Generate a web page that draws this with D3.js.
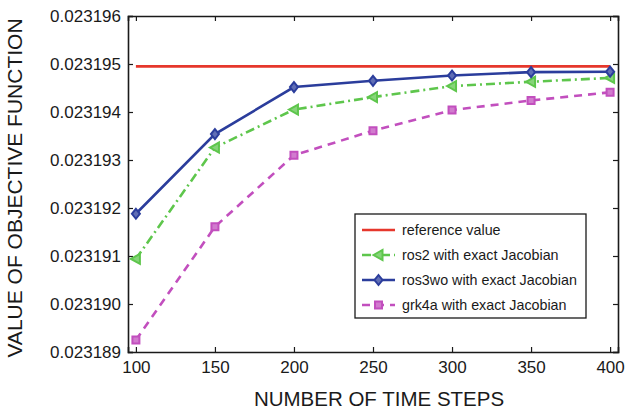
<!DOCTYPE html>
<html>
<head>
<meta charset="utf-8">
<script src="https://cdn.jsdelivr.net/npm/d3@7"></script>
<style>
  body { margin: 0; background: #fff; }
  text { font-family: "Liberation Sans", Arial, Helvetica, sans-serif; fill: #1a1a1a; }
</style>
</head>
<body>
<div class="chart-container"></div>
<script>
// data
var steps = [100, 150, 200, 250, 300, 350, 400]
var referenceValue = 0.02319495
var ros2 = [0.02319094, 0.02319326, 0.02319405, 0.02319431, 0.02319454, 0.02319463, 0.02319471]
var ros3wo = [0.02319188, 0.02319354, 0.02319452, 0.02319465, 0.02319476, 0.02319483, 0.02319484]
var grk4a = [0.02318925, 0.02319161, 0.02319310, 0.02319361, 0.02319404, 0.02319424, 0.02319441]
var xTicks = [100, 150, 200, 250, 300, 350, 400]
var yTicks = [0.023189, 0.023190, 0.023191, 0.023192, 0.023193, 0.023194, 0.023195, 0.023196]
var legendLabels = ['reference value', 'ros2 with exact Jacobian', 'ros3wo with exact Jacobian', 'grk4a with exact Jacobian']

var svg = d3.select('.chart-container').append('svg').attr('width', 626).attr('height', 410)

// plot box (window.top is reserved, so use own names)
var pLeft = 128, pRight = 618, pTop = 16, pBottom = 352

var x = d3.scaleLinear().domain([95, 405]).range([pLeft, pRight])
var y = d3.scaleLinear().domain([0.023189, 0.023196]).range([pBottom, pTop])

// axes, ticks pointing inward on all four sides
var fmt = d3.format('.6f')
var tickLen = 5
svg.append('g').attr('transform', 'translate(0,' + pBottom + ')')
  .call(d3.axisBottom(x).tickValues(xTicks).tickSize(-tickLen).tickPadding(9))
svg.append('g').attr('transform', 'translate(0,' + pTop + ')')
  .call(d3.axisTop(x).tickValues(xTicks).tickSize(-tickLen).tickFormat(''))
svg.append('g').attr('transform', 'translate(' + pLeft + ',0)')
  .call(d3.axisLeft(y).tickValues(yTicks).tickSize(-tickLen).tickPadding(7).tickFormat(fmt))
svg.append('g').attr('transform', 'translate(' + pRight + ',0)')
  .call(d3.axisRight(y).tickValues(yTicks).tickSize(-tickLen).tickFormat(''))

svg.selectAll('.domain').attr('stroke', '#1a1a1a').attr('stroke-width', 1.6)
svg.selectAll('.tick line').attr('stroke', '#1a1a1a').attr('stroke-width', 1.2)
svg.selectAll('.tick text').style('font-size', '17px').attr('fill', '#1a1a1a')

// axis titles
svg.append('text').attr('x', 379).attr('y', 406)
  .attr('text-anchor', 'middle').style('font-size', '20.5px').text('NUMBER OF TIME STEPS')
svg.append('text').attr('transform', 'translate(22,188) rotate(-90)')
  .attr('text-anchor', 'middle').style('font-size', '21px').text('VALUE OF OBJECTIVE FUNCTION')

var series = [
  {name: 'ros2', values: ros2, color: '#5ec64c', dash: '9,4,2,4', marker: 'triangle'},
  {name: 'ros3wo', values: ros3wo, color: '#2b3d9c', dash: null, marker: 'diamond'},
  {name: 'grk4a', values: grk4a, color: '#c24fbe', dash: '8,6', marker: 'square'}
]

var line = d3.line().x((d, i) => x(steps[i])).y(d => y(d))

// reference value
svg.append('line').attr('x1', x(steps[0])).attr('x2', x(steps[steps.length - 1]))
  .attr('y1', y(referenceValue)).attr('y2', y(referenceValue))
  .attr('stroke', '#e6372c').attr('stroke-width', 2.6)

function markerPath(type) {
  if (type === 'diamond') return 'M0,-5L4,0L0,5L-4,0Z'
  if (type === 'triangle') return 'M-5,0L4,-5L4,5Z'
  return 'M-3.5,-3.5L3.5,-3.5L3.5,3.5L-3.5,3.5Z'
}

function drawMarker(g, type, color, cx, cy) {
  g.append('path').attr('d', markerPath(type))
    .attr('transform', 'translate(' + cx + ',' + cy + ')')
    .attr('fill', d3.interpolateRgb(color, '#fff')(0.25))
    .attr('stroke', color).attr('stroke-width', 2)
}

series.forEach(function(s) {
  var p = svg.append('path').datum(s.values).attr('d', line)
    .attr('fill', 'none').attr('stroke', s.color).attr('stroke-width', 2.6)
  if (s.dash) p.attr('stroke-dasharray', s.dash)
  var g = svg.append('g')
  s.values.forEach((v, i) => drawMarker(g, s.marker, s.color, x(steps[i]), y(v)))
})

// legend
var lg = svg.append('g')
lg.append('rect').attr('x', 355).attr('y', 214).attr('width', 231).attr('height', 104)
  .attr('fill', '#fff').attr('stroke', '#1a1a1a').attr('stroke-width', 1.3)
var legendItems = [{color: '#e6372c', dash: null, marker: null}].concat(series)
legendItems.forEach(function(s, i) {
  var ly = 230 + i * 25
  var l = lg.append('line').attr('x1', 362).attr('x2', 395).attr('y1', ly).attr('y2', ly)
    .attr('stroke', s.color).attr('stroke-width', 2.6)
  if (s.dash) l.attr('stroke-dasharray', s.dash)
  if (s.marker) drawMarker(lg, s.marker, s.color, 378.5, ly)
  lg.append('text').attr('x', 402).attr('y', ly + 5).style('font-size', '14.3px').text(legendLabels[i])
})
</script>
</body>
</html>
